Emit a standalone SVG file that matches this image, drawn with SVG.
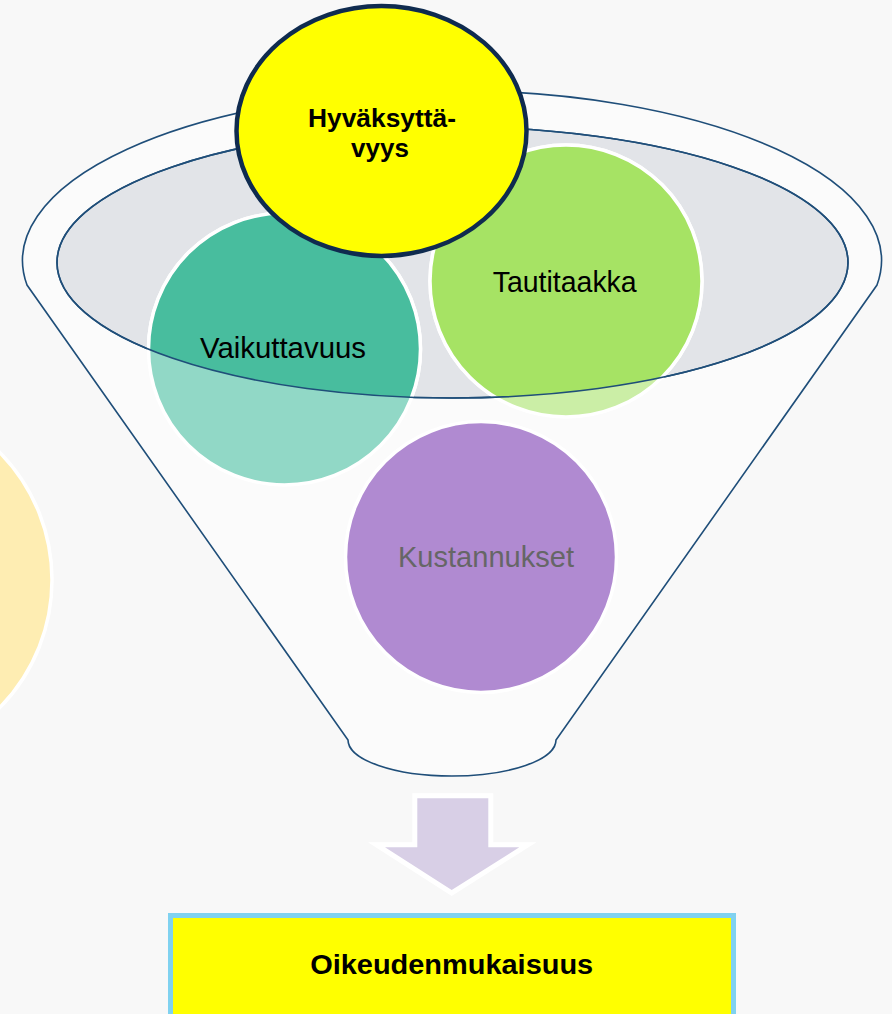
<svg xmlns="http://www.w3.org/2000/svg" width="892" height="1014" viewBox="0 0 892 1014">
  <style>
    .funnel { fill: #fbfbfb; stroke: #1f4e79; stroke-width: 1.6; }
    .rim { fill: #e2e4e8; stroke: #1f4e79; stroke-width: 1.6; }
    .rimline { fill: none; stroke: #1f4e79; stroke-width: 1.6; }
    .ball { stroke: #ffffff; stroke-width: 3.5; }
    .lbl { font-family: "Liberation Sans", Arial, sans-serif; font-size: 29px; text-anchor: middle; fill: #000000; }
    .bold { font-family: "Liberation Sans", Arial, sans-serif; font-weight: bold; text-anchor: middle; fill: #000000; }
  </style>
  <defs>
    <clipPath id="rimClip">
      <ellipse cx="452.5" cy="262.5" rx="395.5" ry="135.5"/>
    </clipPath>
  </defs>

  <rect width="892" height="1014" fill="#f8f8f8"/>

  <g id="side-circle">
    <circle cx="-130" cy="580" r="182" fill="#feedb2" stroke="#ffffff" stroke-width="3.5"/>
  </g>

  <g id="funnel">
    <path class="funnel" d="M27,285 A429.5,170 0 1 1 877,285 L556,740 A104,36 0 0 1 348,740 Z"/>
    <ellipse class="rim" cx="452.5" cy="262.5" rx="395.5" ry="135.5"/>
  </g>

  <g id="vaikuttavuus">
    <circle class="ball" cx="284.5" cy="349" r="136" fill="#91d8c6"/>
    <g clip-path="url(#rimClip)">
      <circle class="ball" cx="284.5" cy="349" r="136" fill="#48bd9e"/>
    </g>
    <text class="lbl" x="283" y="358" textLength="166" lengthAdjust="spacingAndGlyphs">Vaikuttavuus</text>
  </g>

  <g id="tautitaakka">
    <circle class="ball" cx="566" cy="281" r="136" fill="#cbeea6"/>
    <g clip-path="url(#rimClip)">
      <circle class="ball" cx="566" cy="281" r="136" fill="#a6e364"/>
    </g>
    <text class="lbl" x="564.7" y="291.5" textLength="144" lengthAdjust="spacingAndGlyphs">Tautitaakka</text>
  </g>

  <g id="kustannukset">
    <circle class="ball" cx="481" cy="557" r="135.5" fill="#b08ad1"/>
    <text class="lbl" x="486" y="566.5" textLength="176" lengthAdjust="spacingAndGlyphs" style="fill:#666666">Kustannukset</text>
  </g>

  <g id="rim-edge">
    <ellipse class="rimline" cx="452.5" cy="262.5" rx="395.5" ry="135.5"/>
  </g>

  <g id="hyvaksyttavyys">
    <ellipse cx="381.5" cy="131" rx="145" ry="125" fill="#ffff00" stroke="#0f2b4f" stroke-width="4.5"/>
    <text class="bold" x="382" y="126.5" font-size="26" textLength="148" lengthAdjust="spacingAndGlyphs">Hyväksyttä-</text>
    <text class="bold" x="380" y="157" font-size="26">vyys</text>
  </g>

  <g id="connectors">
    <path d="M417.3,798.3 L488.3,798.3 L488.3,847.3 L519.3,847.3 L451.7,890 L385,847.3 L417.3,847.3 Z" fill="#d8cfe6" stroke="#ffffff" stroke-width="10" stroke-linejoin="miter" paint-order="stroke"/>
  </g>

  <g id="oikeudenmukaisuus">
    <rect x="170.5" y="915.5" width="563" height="130" fill="#ffff00" stroke="#80d2f0" stroke-width="5"/>
    <text class="bold" x="451.7" y="974.3" font-size="28" textLength="283" lengthAdjust="spacingAndGlyphs">Oikeudenmukaisuus</text>
  </g>
</svg>
